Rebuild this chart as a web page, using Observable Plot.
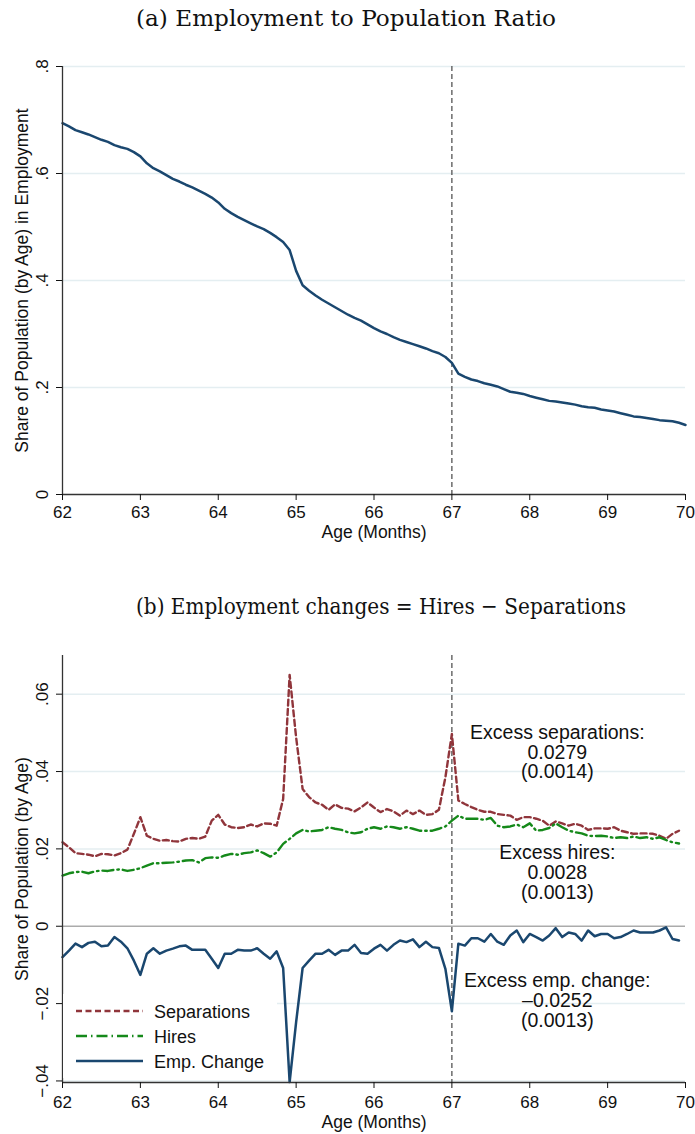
<!DOCTYPE html>
<html><head><meta charset="utf-8">
<script src="https://cdn.jsdelivr.net/npm/d3@7"></script>
<script src="https://cdn.jsdelivr.net/npm/@observablehq/plot@0.6"></script>
<style>
body{margin:0;background:#fff;}
#page{position:relative;width:695px;height:1134px;overflow:hidden;background:#fff;font-family:"Liberation Sans",Arial,sans-serif;}
.abs{position:absolute;left:0;}
</style></head><body>
<div id="page"></div>
<script>
// ---------- data ----------
const titleA = "(a) Employment to Population Ratio";
const titleB = "(b) Employment changes = Hires \u2212 Separations";
const xLabel = "Age (Months)";
const yLabelA = "Share of Population (by Age) in Employment";
const yLabelB = "Share of Population (by Age)";
const xTicks = [62, 63, 64, 65, 66, 67, 68, 69, 70];
const xTickLabels = ["62", "63", "64", "65", "66", "67", "68", "69", "70"];
const yTicksA = [0, 0.2, 0.4, 0.6, 0.8];
const yTickLabelsA = ["0", ".2", ".4", ".6", ".8"];
const yTicksB = [-0.04, -0.02, 0, 0.02, 0.04, 0.06];
const yTickLabelsB = ["\u2212.04", "\u2212.02", "0", ".02", ".04", ".06"];
const cutoffAge = [67];

// age in months (744 = 62 years)
const monthsA = [744,745,746,747,748,749,750,751,752,753,754,755,756,757,758,759,760,761,762,763,764,765,766,767,768,769,770,771,772,773,774,775,776,777,778,779,780,781,782,783,784,785,786,787,788,789,790,791,792,793,794,795,796,797,798,799,800,801,802,803,804,805,806,807,808,809,810,811,812,813,814,815,816,817,818,819,820,821,822,823,824,825,826,827,828,829,830,831,832,833,834,835,836,837,838,839,840];
const empRatio = [0.694,0.688,0.681,0.677,0.673,0.668,0.663,0.659,0.653,0.649,0.646,0.640,
0.632,0.619,0.610,0.604,0.597,0.590,0.585,0.579,0.574,0.568,0.562,0.555,
0.546,0.534,0.526,0.519,0.513,0.507,0.501,0.496,0.489,0.481,0.472,0.457,
0.418,0.391,0.381,0.372,0.364,0.357,0.350,0.343,0.336,0.330,0.325,0.318,
0.311,0.305,0.300,0.294,0.289,0.285,0.281,0.277,0.273,0.268,0.264,0.257,
0.246,0.226,0.220,0.215,0.212,0.208,0.205,0.202,0.197,0.192,0.190,0.188,
0.184,0.181,0.178,0.175,0.174,0.172,0.170,0.168,0.165,0.163,0.162,0.159,
0.157,0.155,0.152,0.149,0.146,0.145,0.143,0.141,0.139,0.138,0.137,0.134,
0.130];

const monthsB = [744,745,746,747,748,749,750,751,752,753,754,755,756,757,758,759,760,761,762,763,764,765,766,767,768,769,770,771,772,773,774,775,776,777,778,779,780,781,782,783,784,785,786,787,788,789,790,791,792,793,794,795,796,797,798,799,800,801,802,803,804,805,806,807,808,809,810,811,812,813,814,815,816,817,818,819,820,821,822,823,824,825,826,827,828,829,830,831,832,833,834,835,836,837,838,839];
const separations = [0.0217,0.0204,0.0189,0.0187,0.0185,0.0181,0.0187,0.0186,0.0183,0.0189,0.0198,0.0239,
0.0282,0.0234,0.0226,0.0221,0.0223,0.0220,0.0219,0.0226,0.0228,0.0226,0.0232,0.0273,
0.0288,0.0263,0.0256,0.0254,0.0256,0.0263,0.0258,0.0266,0.0265,0.0260,0.0329,0.0650,
0.0488,0.0355,0.0334,0.0320,0.0314,0.0301,0.0315,0.0306,0.0304,0.0297,0.0307,0.0320,
0.0307,0.0295,0.0303,0.0297,0.0286,0.0299,0.0290,0.0299,0.0288,0.0290,0.0301,0.0385,
0.0497,0.0325,0.0316,0.0308,0.0301,0.0296,0.0296,0.0290,0.0288,0.0286,0.0275,0.0282,
0.0282,0.0278,0.0273,0.0260,0.0271,0.0266,0.0260,0.0265,0.0260,0.0249,0.0253,0.0253,
0.0252,0.0256,0.0247,0.0243,0.0239,0.0240,0.0240,0.0239,0.0234,0.0226,0.0239,0.0247];
const hires = [0.0131,0.0137,0.0140,0.0141,0.0137,0.0142,0.0144,0.0143,0.0146,0.0147,0.0143,0.0146,
0.0150,0.0157,0.0163,0.0163,0.0164,0.0165,0.0167,0.0170,0.0171,0.0165,0.0176,0.0178,
0.0177,0.0183,0.0187,0.0185,0.0189,0.0191,0.0196,0.0189,0.0180,0.0191,0.0213,0.0226,
0.0240,0.0249,0.0245,0.0247,0.0249,0.0256,0.0252,0.0249,0.0243,0.0240,0.0243,0.0252,
0.0256,0.0252,0.0258,0.0256,0.0252,0.0256,0.0252,0.0247,0.0247,0.0247,0.0252,0.0258,
0.0273,0.0286,0.0278,0.0278,0.0278,0.0275,0.0280,0.0260,0.0256,0.0258,0.0263,0.0256,
0.0266,0.0247,0.0249,0.0254,0.0266,0.0256,0.0247,0.0243,0.0240,0.0234,0.0233,0.0234,
0.0232,0.0228,0.0230,0.0228,0.0232,0.0228,0.0230,0.0226,0.0230,0.0223,0.0217,0.0214];
const empChange = [-0.0080,-0.0063,-0.0045,-0.0054,-0.0043,-0.0040,-0.0052,-0.0050,-0.0028,-0.0040,-0.0057,-0.0089,
-0.0126,-0.0071,-0.0057,-0.0071,-0.0063,-0.0058,-0.0052,-0.0050,-0.0061,-0.0061,-0.0061,-0.0084,
-0.0108,-0.0071,-0.0071,-0.0061,-0.0063,-0.0063,-0.0057,-0.0071,-0.0084,-0.0065,-0.0108,-0.0403,
-0.0248,-0.0108,-0.0089,-0.0071,-0.0071,-0.0061,-0.0074,-0.0063,-0.0063,-0.0048,-0.0069,-0.0071,
-0.0058,-0.0048,-0.0063,-0.0048,-0.0037,-0.0041,-0.0034,-0.0054,-0.0040,-0.0054,-0.0056,-0.0110,
-0.0220,-0.0045,-0.0050,-0.0031,-0.0031,-0.0040,-0.0020,-0.0040,-0.0048,-0.0024,-0.0011,-0.0041,
-0.0020,-0.0028,-0.0037,-0.0024,-0.0005,-0.0028,-0.0016,-0.0020,-0.0037,-0.0011,-0.0026,-0.0020,
-0.0020,-0.0031,-0.0028,-0.0020,-0.0011,-0.0016,-0.0016,-0.0016,-0.0011,-0.0003,-0.0033,-0.0037];

const seriesNames = ["Separations", "Hires", "Emp. Change"];
const annotations = [
  "Excess separations:\n0.0279\n(0.0014)",
  "Excess hires:\n0.0028\n(0.0013)",
  "Excess emp. change:\n\u20130.0252\n(0.0013)"
];

// ---------- styles ----------
const NAVY = "#1a476f", MAROON = "#90353b", GREEN = "#15891a";
const GRID = "#e4eef1", AXIS = "#333";
const FONT = "'Liberation Sans', Arial, sans-serif";

const page = document.getElementById("page");

function addTitle(text, top, width) {
  const ns = "http://www.w3.org/2000/svg";
  const s = document.createElementNS(ns, "svg");
  s.setAttribute("width", 695); s.setAttribute("height", 36);
  s.setAttribute("class", "abs"); s.style.top = top + "px";
  const t = document.createElementNS(ns, "text");
  t.setAttribute("x", 136); t.setAttribute("y", 26);
  t.setAttribute("font-family", "'DejaVu Serif', 'Liberation Serif', serif");
  t.setAttribute("font-size", "22.5");
  t.setAttribute("fill", "#111");
  t.setAttribute("textLength", width);
  t.setAttribute("lengthAdjust", "spacingAndGlyphs");
  t.textContent = text;
  s.appendChild(t);
  page.appendChild(s);
}

// ---------- panel (a) ----------
const dataA = monthsA.map((m, i) => ({age: m / 12, ratio: empRatio[i]}));
const domA = [0, 0.8];
const plotA = Plot.plot({
  width: 695, height: 505,
  marginTop: 26, marginBottom: 51, marginLeft: 62, marginRight: 10,
  style: {fontFamily: FONT, color: "#111", background: "transparent"},
  x: {domain: [62, 70]},
  y: {domain: domA},
  marks: [
    Plot.gridY(yTicksA.filter(d => d !== 0), {stroke: GRID, strokeOpacity: 1, strokeWidth: 1.5}),
    Plot.ruleX(cutoffAge, {stroke: "#555", strokeDasharray: "5,3", strokeWidth: 1.3}),
    Plot.line(dataA, {x: "age", y: "ratio", stroke: NAVY, strokeWidth: 2.5}),
    Plot.ruleX([62], {stroke: AXIS, strokeWidth: 1.3}),
    Plot.ruleY([domA[0]], {stroke: AXIS, strokeWidth: 1.3}),
    Plot.axisX(xTicks, {tickSize: 6, tickPadding: 5, fontSize: 17, tickFormat: (d, i) => xTickLabels[i], label: null}),
    Plot.axisY(yTicksA, {tickSize: 6, tickPadding: 9, tickRotate: -90, fontSize: 17, tickFormat: (d, i) => yTickLabelsA[i], label: null}),
    Plot.text([xLabel], {frameAnchor: "bottom", dy: 31, lineAnchor: "top", fontSize: 17.5}),
    Plot.text([yLabelA], {frameAnchor: "left", rotate: -90, dx: -35, lineAnchor: "bottom", textAnchor: "middle", fontSize: 17.5})
  ]
});
plotA.setAttribute("class", "abs");
plotA.style.top = "40px";

// ---------- panel (b) ----------
const dataB = monthsB.map((m, i) => ({age: m / 12, sep: separations[i], hires: hires[i], emp: empChange[i]}));
const domB = [-0.0404, 0.0700];
const plotB = Plot.plot({
  width: 695, height: 504,
  marginTop: 25, marginBottom: 52, marginLeft: 62, marginRight: 10,
  style: {fontFamily: FONT, color: "#111", background: "transparent"},
  x: {domain: [62, 70]},
  y: {domain: domB},
  marks: [
    Plot.gridY(yTicksB.filter(d => d !== 0), {stroke: GRID, strokeOpacity: 1, strokeWidth: 1.5}),
    Plot.ruleY([0], {stroke: "#ababab", strokeWidth: 1.5}),
    Plot.ruleX(cutoffAge, {stroke: "#555", strokeDasharray: "5,3", strokeWidth: 1.3}),
    Plot.line(dataB, {x: "age", y: "sep", stroke: MAROON, strokeWidth: 2.4, strokeDasharray: "6,3.5"}),
    Plot.line(dataB, {x: "age", y: "hires", stroke: GREEN, strokeWidth: 2.4, strokeDasharray: "11,4,1.5,4"}),
    Plot.line(dataB, {x: "age", y: "emp", stroke: NAVY, strokeWidth: 2.5}),
    Plot.ruleX([62], {stroke: AXIS, strokeWidth: 1.3}),
    Plot.ruleY([domB[0]], {stroke: AXIS, strokeWidth: 1.3}),
    Plot.axisX(xTicks, {tickSize: 6, tickPadding: 7, fontSize: 17, tickFormat: (d, i) => xTickLabels[i], label: null}),
    Plot.axisY(yTicksB, {tickSize: 6, tickPadding: 9, tickRotate: -90, fontSize: 17, tickFormat: (d, i) => yTickLabelsB[i], label: null}),
    Plot.text([xLabel], {frameAnchor: "bottom", dy: 33, lineAnchor: "top", fontSize: 17.5}),
    Plot.text([yLabelB], {frameAnchor: "left", rotate: -90, dx: -35, lineAnchor: "bottom", textAnchor: "middle", fontSize: 17.5}),
    Plot.text(annotations, {
      x: [68.354, 68.354, 68.354],
      y: [0.0450, 0.0138, -0.0192],
      text: d => d, fontSize: 19.5, lineHeight: 1.02, textAnchor: "middle", lineAnchor: "middle", fill: "#111"
    })
  ]
});
plotB.setAttribute("class", "abs");
plotB.style.top = "630px";

addTitle(titleA, 0, 420);
page.appendChild(plotA);
addTitle(titleB, 588, 490);
page.appendChild(plotB);

// ---------- legend (inside panel b, lower left) ----------
const leg = document.createElement("div");
leg.className = "abs";
leg.style.left = "63px"; leg.style.top = "994px";
leg.innerHTML = `<svg width="214" height="84" xmlns="http://www.w3.org/2000/svg" style="font-family:${FONT}">
  <rect x="0" y="0" width="214" height="84" fill="#fff"/>
  <line x1="13" x2="80" y1="17" y2="17" stroke="${MAROON}" stroke-width="2.4" stroke-dasharray="6,3.5"/>
  <line x1="13" x2="80" y1="42" y2="42" stroke="${GREEN}" stroke-width="2.4" stroke-dasharray="11,4,1.5,4"/>
  <line x1="13" x2="80" y1="67" y2="67" stroke="${NAVY}" stroke-width="2.5"/>
  <text x="91" y="23.5" font-size="18" fill="#111">${seriesNames[0]}</text>
  <text x="91" y="48.5" font-size="18" fill="#111">${seriesNames[1]}</text>
  <text x="91" y="73.5" font-size="18" fill="#111">${seriesNames[2]}</text>
</svg>`;
page.appendChild(leg);
</script>
</body></html>
